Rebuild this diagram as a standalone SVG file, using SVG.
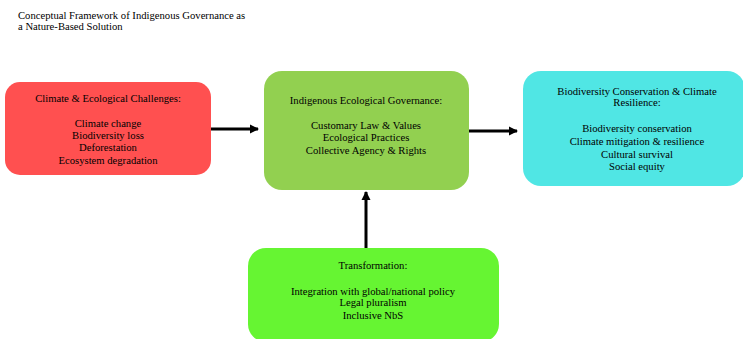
<svg xmlns="http://www.w3.org/2000/svg" width="743" height="339" viewBox="0 0 743 339">
<defs>
<style>
text{font-family:"Liberation Serif","Times New Roman",serif;font-size:10.65px;fill:#000}
.c{text-anchor:middle}
.conn{stroke:#000;stroke-width:3;fill:none}
</style>
<marker id="ah" markerWidth="10" markerHeight="10" refX="8" refY="5" orient="auto" markerUnits="userSpaceOnUse">
<path d="M0,0.5 L9,5 L0,9.5 Z" fill="#000"/>
</marker>
</defs>
<rect width="743" height="339" fill="#fff"/>
<g id="title">
<text x="18" y="18.5">Conceptual Framework of Indigenous Governance as</text>
<text x="18" y="30">a Nature-Based Solution</text>
</g>
<g id="challenges">
<rect x="5" y="82" width="206" height="93" rx="15" fill="#FF5050"/>
<text class="c" x="108" y="101.5">Climate &amp; Ecological Challenges:</text>
<text class="c" x="108" y="126.5">Climate change</text>
<text class="c" x="108" y="139">Biodiversity loss</text>
<text class="c" x="108" y="151">Deforestation</text>
<text class="c" x="108" y="163.5">Ecosystem degradation</text>
</g>
<g id="governance">
<rect x="264" y="71" width="205" height="119" rx="18" fill="#92D050"/>
<text class="c" x="366" y="103.5">Indigenous Ecological Governance:</text>
<text class="c" x="366" y="128.5">Customary Law &amp; Values</text>
<text class="c" x="366" y="140.5">Ecological Practices</text>
<text class="c" x="366" y="153.5">Collective Agency &amp; Rights</text>
</g>
<g id="outcomes">
<rect x="523" y="71" width="222" height="115" rx="18" fill="#50E6E4"/>
<text class="c" x="637" y="94.5">Biodiversity Conservation &amp; Climate</text>
<text class="c" x="637" y="106">Resilience:</text>
<text class="c" x="637" y="131.5">Biodiversity conservation</text>
<text class="c" x="637" y="145">Climate mitigation &amp; resilience</text>
<text class="c" x="637" y="157.5">Cultural survival</text>
<text class="c" x="637" y="170">Social equity</text>
</g>
<g id="transformation">
<rect x="248" y="248" width="251" height="94" rx="18" fill="#66F532"/>
<text class="c" x="373" y="268.5">Transformation:</text>
<text class="c" x="373" y="294.5">Integration with global/national policy</text>
<text class="c" x="373" y="306">Legal pluralism</text>
<text class="c" x="373" y="318.5">Inclusive NbS</text>
</g>
<g id="connectors">
<line class="conn" x1="211" y1="129" x2="258" y2="129" marker-end="url(#ah)"/>
<line class="conn" x1="469" y1="131" x2="517" y2="131" marker-end="url(#ah)"/>
<line class="conn" x1="366" y1="248" x2="366" y2="192" marker-end="url(#ah)"/>
</g>
</svg>
